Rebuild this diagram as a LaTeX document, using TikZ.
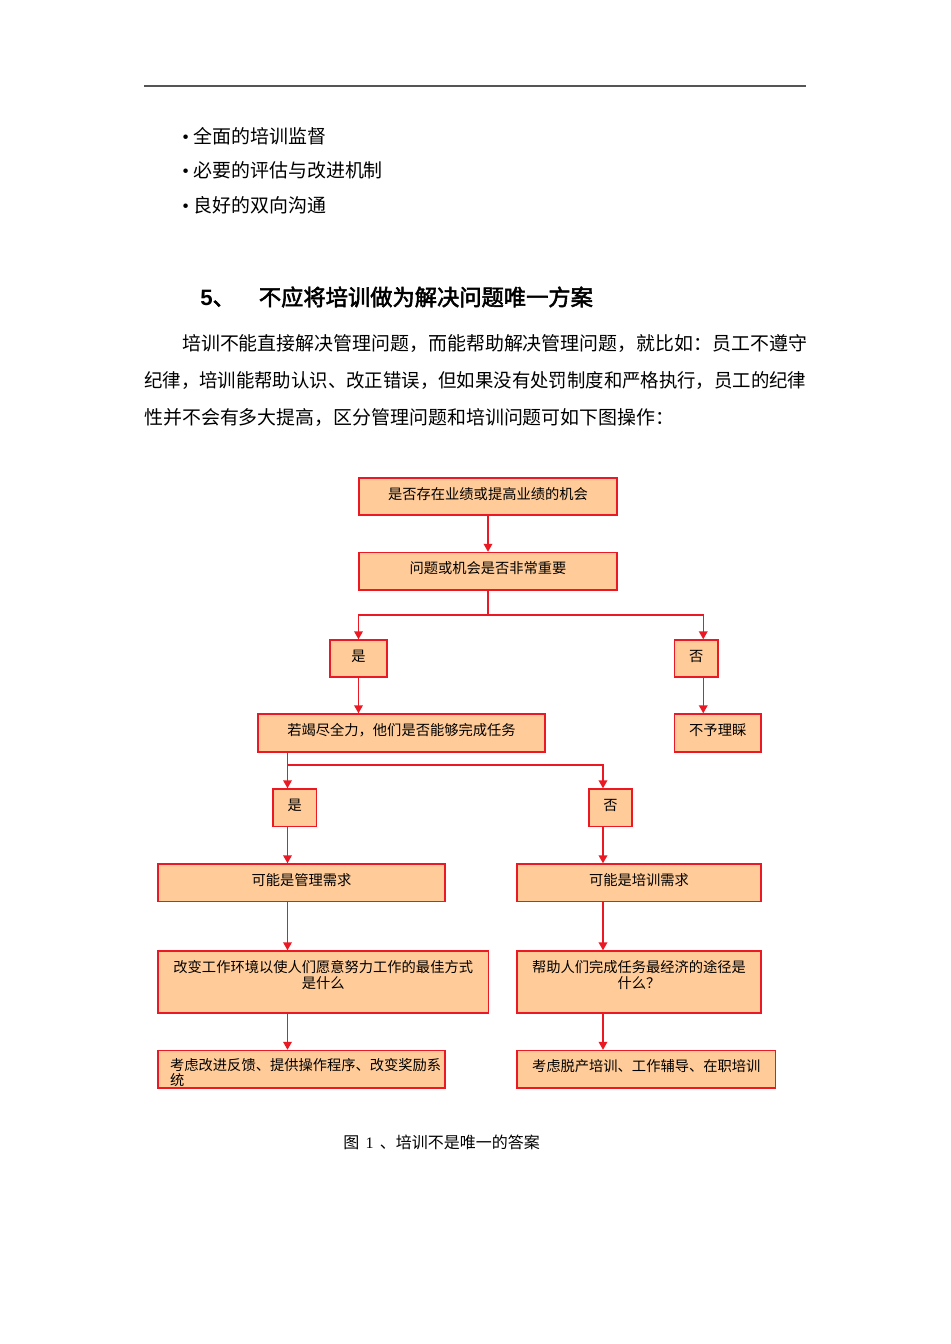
\documentclass[tikz,border=0pt]{standalone}
\usepackage{fontspec}
\usepackage{graphicx}
\setmainfont{Noto Sans CJK SC}
\newfontfamily\cjkb[FakeBold=2.5]{Noto Sans CJK SC}
\newfontfamily\lsans{Liberation Sans}
\newfontfamily\lser{Liberation Serif}
\usetikzlibrary{arrows.meta}
\definecolor{boxfill}{RGB}{255,204,153}
\definecolor{boxred}{RGB}{235,25,35}
\definecolor{rulegray}{RGB}{85,85,85}
\newcommand\fitline[1]{\resizebox{496.5pt}{\height}{#1}}
\begin{document}
\begin{tikzpicture}[x=0.75pt,y=-0.75pt,
  box/.style={draw=boxred, fill=boxfill, line width=1.1pt, inner sep=0pt,
              font=\fontsize{10.7pt}{12pt}\selectfont},
  one/.style={text height=8pt, text depth=4pt},
  sz/.style 2 args={minimum width=#1*0.75pt, minimum height=#2*0.75pt},
  conn/.style={draw=boxred, line width=1.1pt},
  arr/.style={conn, -{Triangle[length=6pt,width=6.5pt]}},
  txt/.style={inner sep=0pt, anchor=west}]

\useasboundingbox (0,0) rectangle (950,1344);

% header rule
\draw[rulegray, line width=1.2pt] (144,86) -- (806,86);

% bullets
\node[txt, align=left, font=\fontsize{14.2pt}{26pt}\selectfont] (bullets) at (182,170.5)
  {{\lser •}\hspace{3.5pt}全面的培训监督\\
   {\lser •}\hspace{3.5pt}必要的评估与改进机制\\
   {\lser •}\hspace{3.5pt}良好的双向沟通};

% heading
\node[txt, font=\fontsize{16.7pt}{20pt}\selectfont] (head) at (200,297)
  {{\lsans\bfseries 5}{\cjkb 、}\hspace{18pt}{\cjkb 不应将培训做为解决问题唯一方案}};

% paragraph
\node[txt, align=left, font=\fontsize{14.2pt}{28pt}\selectfont] (para) at (144,380.5)
  {\hspace*{2em}培训不能直接解决管理问题，而能帮助解决管理问题，就比如：员工不遵守\\
   \fitline{纪律，培训能帮助认识、改正错误，但如果没有处罚制度和严格执行，员工的纪律}\\
   性并不会有多大提高，区分管理问题和培训问题可如下图操作：};

% flowchart boxes
\node[box,one,sz={258}{37}]    (b1)   at (488,496.5)    {是否存在业绩或提高业绩的机会};
\node[box,one,sz={258}{37.5}]  (b2)   at (488,571.25)   {问题或机会是否非常重要};
\node[box,one,sz={57}{37}]     (yes1) at (358.5,658.5)  {是};
\node[box,one,sz={43.5}{37}]   (no1)  at (696.25,658.5) {否};
\node[box,one,sz={287}{38}]    (b3)   at (401.5,733)    {若竭尽全力，他们是否能够完成任务};
\node[box,one,sz={86.5}{38}]   (b4)   at (717.75,733)   {不予理睬};
\node[box,one,sz={43.5}{37.5}] (yes2) at (294.75,807.75) {是};
\node[box,one,sz={43}{37.5}]   (no2)  at (610.5,807.75) {否};
\node[box,one,sz={287}{37.5}]  (b5)   at (301.5,882.75) {可能是管理需求};
\node[box,one,sz={244}{37.5}]  (b6)   at (639,882.75)   {可能是培训需求};
\node[box,sz={330.5}{62}]      (b7)   at (323.25,982)
  {\parbox[c][32pt][t]{245pt}{\centering 改变工作环境以使人们愿意努力工作的最佳方式\\是什么}};
\node[box,sz={244}{62}]        (b8)   at (639,982)
  {\parbox[c][32pt][t]{175pt}{\centering 帮助人们完成任务最经济的途径是\\什么？}};
\node[box,sz={287}{37.5}, text height=11pt, text depth=9pt] (b9) at (301.5,1069.25)
  {\hspace*{7pt}\parbox[t]{204pt}{\raggedright\baselineskip=11pt 考虑改进反馈、提供操作程序、改变奖励系\\统}};
\node[box,one,sz={258.5}{37.5}] (b10) at (646.25,1069.25) {考虑脱产培训、工作辅导、在职培训};

% connectors
\coordinate (s1) at (488,615);
\coordinate (s2) at (287.5,765);
\coordinate (s3) at (603,765);
\draw[arr] (b1.south) -- (b2.north);
\draw[conn] (b2.south) -- (s1);
\draw[arr] (s1) -| (yes1.north);
\draw[arr] (s1) -| ([xshift=5.25pt]no1.north);
\draw[arr] (yes1.south) -- (yes1.south |- b3.north);
\draw[arr] ([xshift=5.25pt]no1.south) -- ([xshift=5.25pt]no1.south |- b4.north);
\draw[conn] (s2 |- b3.south) -- (s2);
\draw[arr] (s2) -| (s2 |- yes2.north);
\draw[arr] (s2) -| (s3 |- no2.north);
\draw[arr] (s2 |- yes2.south) -- (s2 |- b5.north);
\draw[arr] (s3 |- no2.south) -- (s3 |- b6.north);
\draw[arr] (s2 |- b5.south) -- (s2 |- b7.north);
\draw[arr] (s3 |- b6.south) -- (s3 |- b8.north);
\draw[arr] (s2 |- b7.south) -- (s2 |- b9.north);
\draw[arr] (s3 |- b8.south) -- (s3 |- b10.north);

% caption
\node[txt, font=\fontsize{12pt}{14pt}\selectfont] (cap) at (343,1142)
  {图\hspace{2pt} {\lser 1}\hspace{2pt} 、培训不是唯一的答案};
\end{tikzpicture}
\end{document}
